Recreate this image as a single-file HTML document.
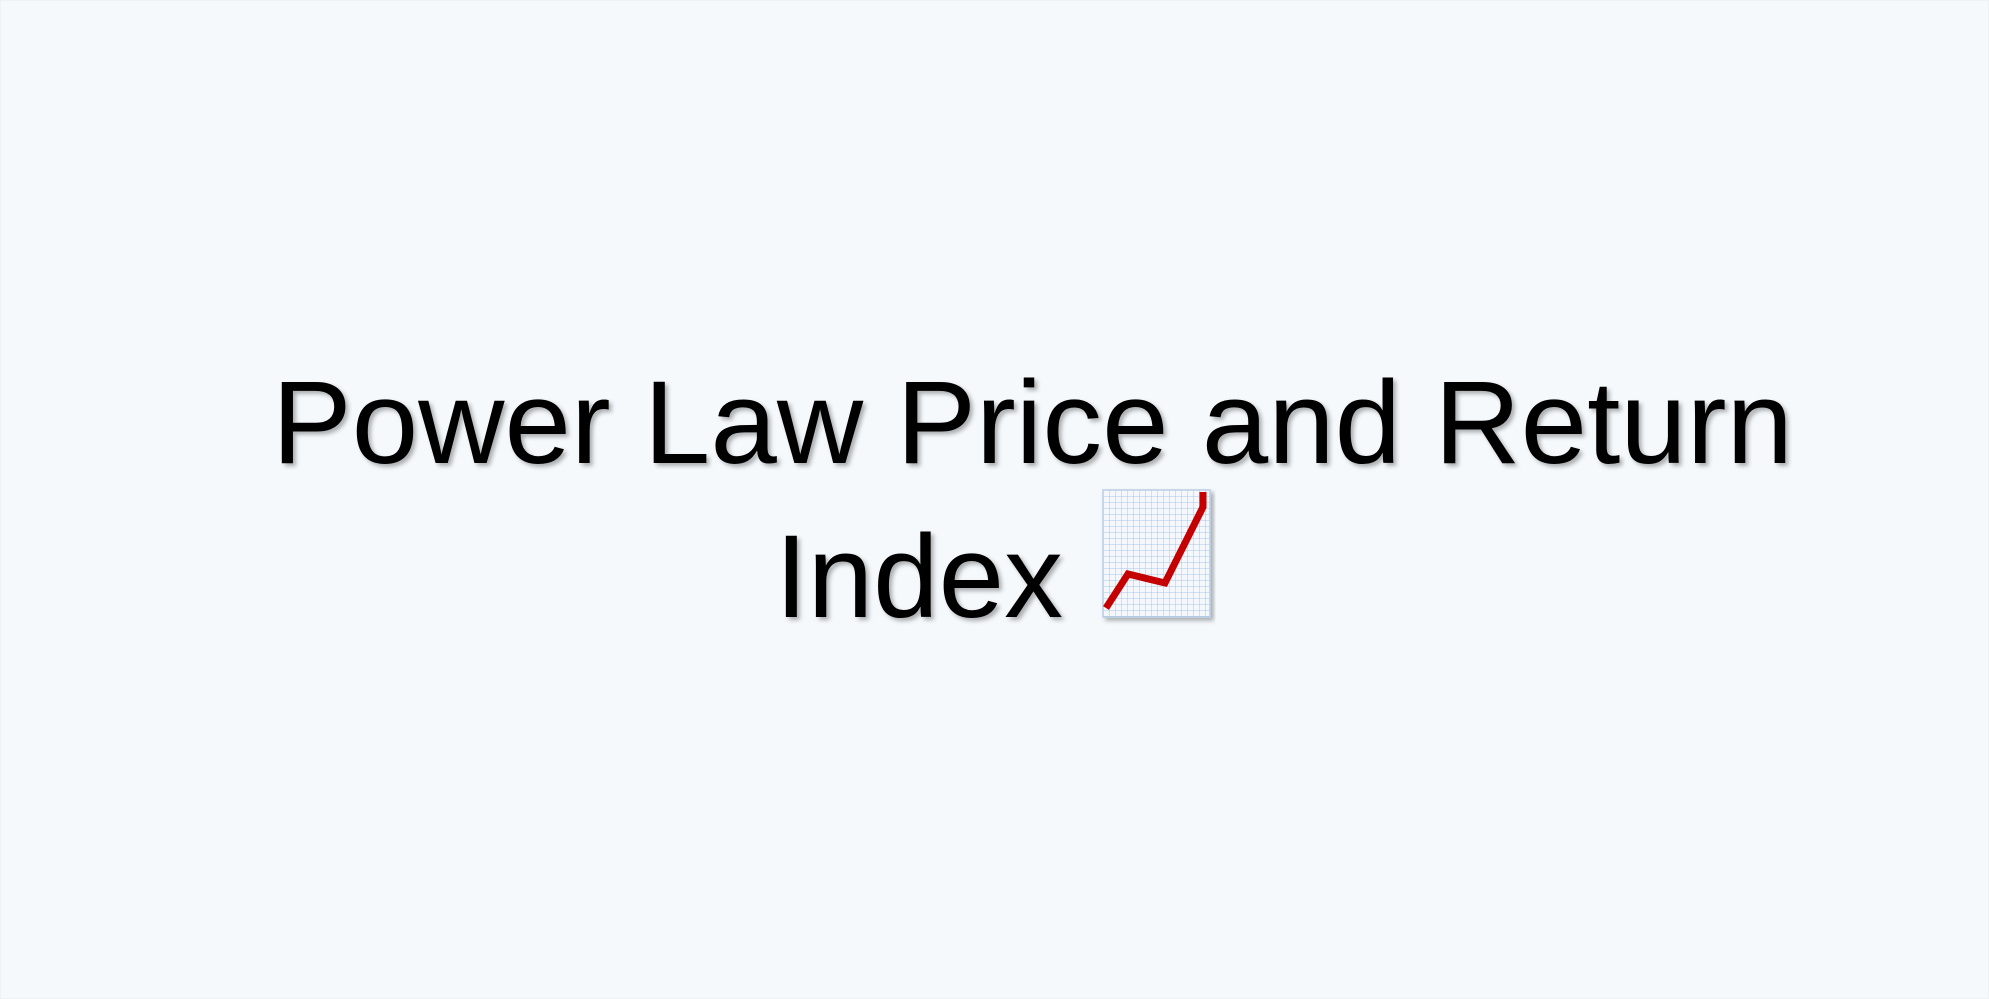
<!DOCTYPE html>
<html>
<head>
<meta charset="utf-8">
<style>
  html,body{margin:0;padding:0;width:1989px;height:999px;overflow:hidden;background:#f5f9fc;}
  svg{display:block;}
  text{font-family:"Liberation Sans","DejaVu Sans",sans-serif;}
</style>
</head>
<body>
<svg width="1989" height="999" viewBox="0 0 1989 999">
  <defs>
    <filter id="sh" x="-5%" y="-20%" width="110%" height="140%">
      <feDropShadow dx="3" dy="3" stdDeviation="2" flood-color="#000" flood-opacity="0.3"/>
    </filter>
    <pattern id="grid" width="6" height="6" patternUnits="userSpaceOnUse" x="1103" y="490">
      <path d="M6 0 L0 0 0 6" fill="none" stroke="#a9c6e6" stroke-width="1"/>
    </pattern>
  </defs>
  <rect x="0.5" y="0.5" width="1988" height="998" fill="#f5f9fc" stroke="#eef2f5"/>
  <g filter="url(#sh)" fill="#000">
    <text x="272" y="463" font-size="118" textLength="1521" lengthAdjust="spacingAndGlyphs">Power Law Price and Return</text>
    <text x="775" y="617" font-size="118" textLength="288" lengthAdjust="spacingAndGlyphs">Index</text>
  </g>
  <g filter="url(#sh)">
    <rect x="1103" y="490" width="107" height="127" fill="#f4f8fd"/>
    <rect x="1103" y="490" width="107" height="127" fill="url(#grid)"/>
    <rect x="1103" y="490" width="107" height="127" fill="none" stroke="#b9cde3" stroke-width="1.5"/>
    <polyline points="1106,608 1128,574 1165,583 1203,507 1203,492" fill="none" stroke="#c40000" stroke-width="7" stroke-linejoin="miter"/>
  </g>
</svg>
</body>
</html>
